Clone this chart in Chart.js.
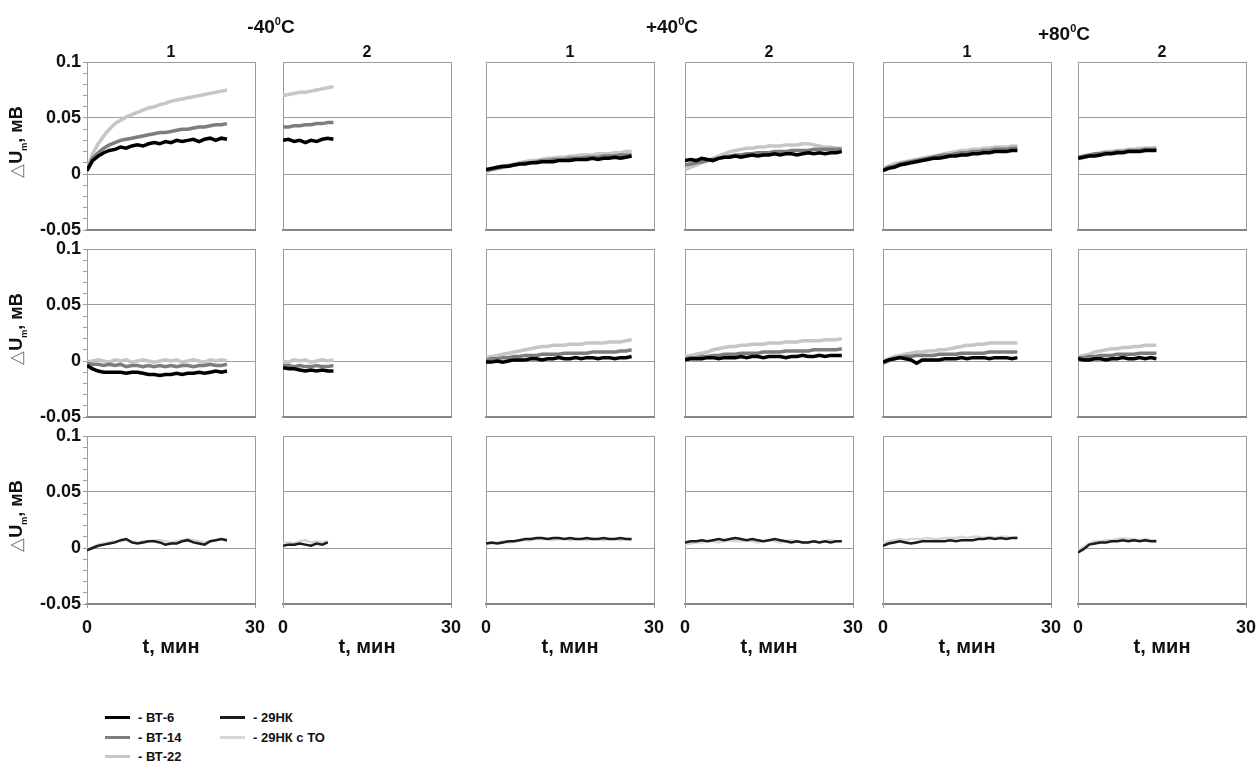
<!DOCTYPE html>
<html>
<head>
<meta charset="utf-8">
<script src="https://cdn.jsdelivr.net/npm/chart.js@4.4.0/dist/chart.umd.min.js"></script>
<style>
  body { margin:0; background:#fff; width:1260px; height:765px; position:relative; overflow:hidden;
         font-family:"Liberation Sans", Arial, sans-serif; font-weight:bold; color:#111; }
  canvas { position:absolute; }
  .lbl { position:absolute; transform:translate(-50%,-50%); white-space:nowrap; }
  .grp { font-size:19px; }
  .grp sup { font-size:11px; position:relative; top:-1px; }
  .num { font-size:16px; }
  .ytitle { position:absolute; font-size:18px; white-space:nowrap; transform:translate(-50%,-50%) rotate(-90deg); }
  .ytitle .tri { color:#777; font-weight:normal; }
  .ytitle sub { font-size:9px; }
  .leg { position:absolute; font-size:13px; white-space:nowrap; }
  .sw { display:inline-block; width:25px; height:3px; vertical-align:middle; margin-right:8px; position:relative; top:-1px; }
</style>
</head>
<body>
<script>
// time axes (minutes) for each column
const tA = [0,1,2,3,4,5,6,7,8,9,10,11,12,13,14,15,16,17,18,19,20,21,22,23,24,25];
const tB = [0,1,2,3,4,5,6,7,8,9];
const tC = [0,1,2,3,4,5,6,7,8,9,10,11,12,13,14,15,16,17,18,19,20,21,22,23,24,25,26];
const tD = [0,1,2,3,4,5,6,7,8,9,10,11,12,13,14,15,16,17,18,19,20,21,22,23,24,25,26,27,28];
const tE = [0,1,2,3,4,5,6,7,8,9,10,11,12,13,14,15,16,17,18,19,20,21,22,23,24];
const tF = [0,1,2,3,4,5,6,7,8,9,10,11,12,13,14];

// row 1
const r1c1_vt6  = [0.003,0.012,0.016,0.019,0.021,0.022,0.024,0.023,0.025,0.026,0.025,0.027,0.028,0.027,0.029,0.028,0.030,0.029,0.030,0.031,0.029,0.031,0.032,0.030,0.032,0.031];
const r1c1_vt14 = [0.004,0.014,0.019,0.023,0.026,0.028,0.030,0.031,0.032,0.033,0.034,0.035,0.036,0.037,0.037,0.038,0.039,0.040,0.040,0.041,0.042,0.042,0.043,0.044,0.044,0.045];
const r1c1_vt22 = [0.004,0.018,0.027,0.034,0.040,0.045,0.048,0.051,0.053,0.055,0.057,0.059,0.060,0.062,0.063,0.065,0.066,0.067,0.068,0.069,0.070,0.071,0.072,0.073,0.074,0.075];

const r1c2_vt6  = [0.030,0.031,0.029,0.030,0.028,0.030,0.029,0.031,0.032,0.031];
const r1c2_vt14 = [0.042,0.042,0.043,0.043,0.044,0.044,0.045,0.045,0.046,0.046];
const r1c2_vt22 = [0.070,0.071,0.072,0.073,0.073,0.074,0.075,0.076,0.077,0.078];

const r1c3_vt6  = [0.004,0.005,0.006,0.007,0.007,0.008,0.009,0.009,0.010,0.010,0.011,0.011,0.011,0.012,0.012,0.012,0.013,0.013,0.013,0.014,0.013,0.014,0.014,0.015,0.014,0.015,0.016];
const r1c3_vt14 = [0.003,0.004,0.005,0.006,0.007,0.008,0.009,0.010,0.010,0.011,0.012,0.012,0.013,0.013,0.013,0.014,0.014,0.014,0.015,0.015,0.015,0.016,0.016,0.016,0.017,0.017,0.017];
const r1c3_vt22 = [0.002,0.004,0.005,0.006,0.008,0.009,0.010,0.011,0.012,0.012,0.013,0.014,0.014,0.015,0.015,0.016,0.016,0.017,0.017,0.017,0.018,0.018,0.018,0.019,0.019,0.020,0.020];

const r1c4_vt6  = [0.012,0.013,0.012,0.014,0.013,0.012,0.014,0.015,0.015,0.016,0.015,0.016,0.017,0.016,0.017,0.017,0.018,0.017,0.018,0.018,0.017,0.018,0.019,0.018,0.019,0.018,0.019,0.019,0.020];
const r1c4_vt14 = [0.008,0.009,0.010,0.011,0.012,0.013,0.014,0.015,0.016,0.017,0.017,0.018,0.018,0.019,0.019,0.019,0.020,0.020,0.020,0.021,0.021,0.021,0.021,0.022,0.022,0.022,0.022,0.022,0.022];
const r1c4_vt22 = [0.004,0.006,0.008,0.010,0.012,0.014,0.016,0.018,0.020,0.021,0.022,0.023,0.023,0.024,0.024,0.025,0.025,0.025,0.026,0.026,0.026,0.027,0.027,0.026,0.025,0.024,0.024,0.023,0.023];

const r1c5_vt6  = [0.003,0.005,0.006,0.008,0.009,0.010,0.011,0.012,0.013,0.014,0.014,0.015,0.016,0.016,0.017,0.017,0.018,0.018,0.019,0.019,0.020,0.020,0.020,0.021,0.021];
const r1c5_vt14 = [0.004,0.006,0.007,0.009,0.010,0.011,0.012,0.013,0.014,0.015,0.016,0.017,0.017,0.018,0.019,0.019,0.020,0.020,0.021,0.021,0.022,0.022,0.022,0.023,0.023];
const r1c5_vt22 = [0.005,0.007,0.009,0.010,0.011,0.012,0.013,0.014,0.015,0.016,0.017,0.018,0.019,0.020,0.021,0.021,0.022,0.022,0.023,0.023,0.024,0.024,0.024,0.025,0.025];

const r1c6_vt6  = [0.014,0.015,0.016,0.016,0.017,0.018,0.018,0.019,0.019,0.020,0.020,0.020,0.021,0.021,0.021];
const r1c6_vt14 = [0.015,0.016,0.017,0.018,0.018,0.019,0.019,0.020,0.020,0.021,0.021,0.021,0.022,0.022,0.022];
const r1c6_vt22 = [0.013,0.015,0.016,0.018,0.019,0.020,0.020,0.021,0.021,0.022,0.022,0.023,0.023,0.023,0.024];

// row 2
const r2c1_vt6  = [-0.004,-0.007,-0.009,-0.010,-0.010,-0.010,-0.010,-0.011,-0.010,-0.010,-0.011,-0.012,-0.012,-0.013,-0.012,-0.012,-0.011,-0.012,-0.011,-0.011,-0.010,-0.011,-0.010,-0.009,-0.010,-0.009];
const r2c1_vt14 = [-0.002,-0.003,-0.003,-0.004,-0.003,-0.004,-0.003,-0.005,-0.004,-0.004,-0.005,-0.004,-0.005,-0.004,-0.005,-0.004,-0.005,-0.004,-0.004,-0.005,-0.004,-0.004,-0.003,-0.004,-0.004,-0.003];
const r2c1_vt22 = [-0.001,0.000,0.001,0.000,-0.001,0.001,0.000,0.001,-0.001,0.000,0.001,0.000,-0.001,0.000,0.001,0.000,0.001,-0.001,0.000,0.001,0.000,-0.001,0.001,0.000,0.001,0.000];

const r2c2_vt6  = [-0.006,-0.007,-0.007,-0.008,-0.009,-0.008,-0.009,-0.008,-0.009,-0.009];
const r2c2_vt14 = [-0.004,-0.004,-0.005,-0.004,-0.005,-0.005,-0.004,-0.005,-0.005,-0.004];
const r2c2_vt22 = [0.000,-0.001,0.001,0.000,0.001,-0.001,0.000,0.001,0.000,0.001];

const r2c3_vt6  = [-0.001,-0.001,0.000,-0.001,0.000,0.001,0.001,0.001,0.002,0.002,0.001,0.002,0.002,0.003,0.002,0.002,0.003,0.002,0.003,0.003,0.002,0.003,0.003,0.002,0.003,0.003,0.004];
const r2c3_vt14 = [0.001,0.002,0.002,0.003,0.003,0.004,0.004,0.005,0.005,0.005,0.006,0.006,0.006,0.006,0.007,0.007,0.007,0.007,0.007,0.008,0.008,0.008,0.008,0.008,0.009,0.009,0.010];
const r2c3_vt22 = [0.003,0.004,0.005,0.006,0.007,0.008,0.009,0.010,0.011,0.012,0.013,0.013,0.014,0.014,0.014,0.015,0.015,0.015,0.016,0.016,0.016,0.016,0.017,0.017,0.017,0.018,0.019];

const r2c4_vt6  = [0.001,0.002,0.002,0.002,0.003,0.003,0.002,0.003,0.003,0.003,0.004,0.003,0.004,0.004,0.003,0.004,0.004,0.004,0.003,0.004,0.004,0.005,0.004,0.004,0.005,0.004,0.005,0.005,0.005];
const r2c4_vt14 = [0.002,0.003,0.003,0.004,0.004,0.005,0.005,0.006,0.006,0.006,0.007,0.007,0.007,0.007,0.008,0.008,0.008,0.008,0.009,0.009,0.009,0.009,0.009,0.010,0.010,0.010,0.010,0.010,0.011];
const r2c4_vt22 = [0.004,0.005,0.006,0.007,0.008,0.010,0.011,0.012,0.013,0.013,0.014,0.014,0.015,0.015,0.015,0.016,0.016,0.016,0.017,0.017,0.017,0.018,0.018,0.018,0.018,0.019,0.019,0.019,0.020];

const r2c5_vt6  = [-0.001,0.001,0.002,0.003,0.002,0.001,-0.002,0.001,0.001,0.001,0.001,0.002,0.002,0.002,0.003,0.002,0.003,0.003,0.003,0.002,0.003,0.003,0.003,0.002,0.003];
const r2c5_vt14 = [-0.002,0.000,0.002,0.003,0.004,0.004,0.005,0.005,0.005,0.005,0.006,0.006,0.006,0.006,0.007,0.007,0.007,0.007,0.007,0.008,0.008,0.008,0.008,0.008,0.008];
const r2c5_vt22 = [0.000,0.002,0.004,0.005,0.006,0.007,0.008,0.008,0.009,0.009,0.010,0.010,0.011,0.012,0.013,0.014,0.014,0.015,0.015,0.016,0.016,0.016,0.016,0.016,0.016];

const r2c6_vt6  = [0.002,0.001,0.001,0.002,0.002,0.001,0.002,0.002,0.003,0.002,0.002,0.003,0.002,0.003,0.002];
const r2c6_vt14 = [0.003,0.003,0.004,0.004,0.005,0.005,0.005,0.006,0.006,0.006,0.006,0.007,0.007,0.007,0.007];
const r2c6_vt22 = [0.004,0.005,0.006,0.008,0.009,0.010,0.011,0.011,0.012,0.012,0.013,0.013,0.014,0.014,0.014];

// row 3
const r3c1_nk   = [-0.002,0.000,0.002,0.003,0.004,0.005,0.007,0.008,0.005,0.004,0.005,0.006,0.006,0.005,0.003,0.004,0.004,0.006,0.007,0.005,0.004,0.003,0.006,0.007,0.008,0.007];
const r3c1_nkto = [-0.001,0.001,0.003,0.004,0.005,0.006,0.006,0.007,0.006,0.005,0.006,0.006,0.007,0.007,0.006,0.005,0.006,0.007,0.008,0.007,0.006,0.005,0.006,0.007,0.008,0.006];

const r3c2_nk   = [0.002,0.003,0.003,0.004,0.003,0.002,0.004,0.003,0.005];
const r3c2_nkto = [0.004,0.005,0.004,0.006,0.007,0.005,0.006,0.005,0.006];

const r3c3_nk   = [0.004,0.005,0.004,0.005,0.006,0.006,0.007,0.008,0.008,0.009,0.009,0.008,0.009,0.009,0.008,0.009,0.008,0.008,0.009,0.008,0.008,0.009,0.008,0.008,0.009,0.008,0.008];
const r3c3_nkto = [0.003,0.004,0.005,0.006,0.005,0.006,0.007,0.007,0.007,0.008,0.008,0.008,0.007,0.008,0.008,0.007,0.008,0.008,0.007,0.008,0.008,0.007,0.008,0.008,0.007,0.008,0.007];

const r3c4_nk   = [0.005,0.006,0.006,0.007,0.006,0.007,0.008,0.007,0.008,0.009,0.008,0.007,0.008,0.007,0.006,0.007,0.008,0.007,0.006,0.005,0.006,0.005,0.005,0.006,0.005,0.006,0.005,0.006,0.006];
const r3c4_nkto = [0.003,0.004,0.005,0.005,0.006,0.006,0.005,0.006,0.007,0.006,0.006,0.007,0.006,0.005,0.006,0.007,0.006,0.005,0.006,0.007,0.006,0.005,0.005,0.006,0.005,0.006,0.007,0.006,0.006];

const r3c5_nk   = [0.002,0.004,0.005,0.006,0.005,0.004,0.005,0.006,0.006,0.006,0.006,0.006,0.007,0.006,0.007,0.007,0.007,0.008,0.008,0.009,0.008,0.009,0.008,0.009,0.009];
const r3c5_nkto = [0.004,0.006,0.007,0.008,0.007,0.008,0.008,0.008,0.009,0.008,0.008,0.009,0.009,0.009,0.010,0.009,0.010,0.010,0.009,0.010,0.009,0.010,0.010,0.009,0.010];

const r3c6_nk   = [-0.004,-0.001,0.003,0.004,0.005,0.005,0.006,0.006,0.007,0.006,0.007,0.006,0.007,0.006,0.006];
const r3c6_nkto = [-0.002,0.001,0.004,0.006,0.006,0.007,0.007,0.008,0.009,0.008,0.008,0.007,0.008,0.007,0.007];

// labels
const groupTitles = ['-40', '+40', '+80'];
const panelNums = ['1', '2'];
const yTicksMajor = [-0.05, 0, 0.05, 0.1];
const xTitle = 't, мин';
const seriesNames = ['- ВТ-6', '- ВТ-14', '- ВТ-22', '- 29НК', '- 29НК с ТО'];
const seriesColors = ['#000000', '#7d7d7d', '#c6c6c6', '#1c1c1c', '#d6d6d6'];

// layout
const colLefts = [87, 283, 486, 685, 883, 1078];
const rowTops = [62, 249, 436];
const plotW = 168, plotH = 168;
const FONT = '"Liberation Sans", Arial, sans-serif';

const rows = [
  [[r1c1_vt6, r1c1_vt14, r1c1_vt22], [r1c2_vt6, r1c2_vt14, r1c2_vt22], [r1c3_vt6, r1c3_vt14, r1c3_vt22],
   [r1c4_vt6, r1c4_vt14, r1c4_vt22], [r1c5_vt6, r1c5_vt14, r1c5_vt22], [r1c6_vt6, r1c6_vt14, r1c6_vt22]],
  [[r2c1_vt6, r2c1_vt14, r2c1_vt22], [r2c2_vt6, r2c2_vt14, r2c2_vt22], [r2c3_vt6, r2c3_vt14, r2c3_vt22],
   [r2c4_vt6, r2c4_vt14, r2c4_vt22], [r2c5_vt6, r2c5_vt14, r2c5_vt22], [r2c6_vt6, r2c6_vt14, r2c6_vt22]],
  [[r3c1_nk, r3c1_nkto], [r3c2_nk, r3c2_nkto], [r3c3_nk, r3c3_nkto],
   [r3c4_nk, r3c4_nkto], [r3c5_nk, r3c5_nkto], [r3c6_nk, r3c6_nkto]]
];
const colTimes = [tA, tB, tC, tD, tE, tF];

function pts(t, v) {
  return v.map((y, i) => ({ x: t[i], y: y }));
}
function isMajor(v) {
  return Math.abs(Math.round(v * 100)) % 5 === 0;
}

function addText(cls, html, x, y) {
  const d = document.createElement('div');
  d.className = cls;
  d.innerHTML = html;
  d.style.left = x + 'px';
  d.style.top = y + 'px';
  document.body.appendChild(d);
  return d;
}

function makePanel(r, c) {
  const cv = document.createElement('canvas');
  cv.width = 80 + plotW + 20;
  cv.height = 10 + plotH + 70;
  cv.style.left = (colLefts[c] - 80) + 'px';
  cv.style.top = (rowTops[r] - 10) + 'px';
  document.body.appendChild(cv);

  const isLeft = c === 0, isBottom = r === 2;
  const colorIdx = r === 2 ? [3, 4] : [0, 1, 2];
  const datasets = rows[r][c].map((vals, i) => ({
    label: seriesNames[colorIdx[i]],
    data: pts(colTimes[c], vals),
    borderColor: seriesColors[colorIdx[i]],
    borderWidth: r === 2 ? 2.5 : 3.5,
    pointRadius: 0,
    tension: 0,
    fill: false
  }));

  new Chart(cv, {
    type: 'line',
    data: { datasets: datasets },
    options: {
      responsive: false,
      animation: false,
      events: [],
      layout: { padding: { top: 10, right: 20, left: 0, bottom: 0 } },
      plugins: { legend: { display: false }, tooltip: { enabled: false } },
      scales: {
        x: {
          type: 'linear', min: 0, max: 30,
          ticks: { display: isBottom, stepSize: 30, padding: 9, maxRotation: 0, color: '#111',
                   font: { family: FONT, size: 18, weight: 'bold' } },
          grid: { color: '#9c9c9c', drawTicks: isBottom, tickLength: 4, tickColor: '#9c9c9c' },
          border: { display: true, color: '#858585', width: 2 },
          title: { display: isBottom, text: xTitle, color: '#111', padding: { top: 0, bottom: 15 },
                   font: { family: FONT, size: 20, weight: 'bold' } },
          afterFit: s => { s.height = 70; s.paddingLeft = 0; s.paddingRight = 0; }
        },
        y: {
          type: 'linear', min: yTicksMajor[0], max: yTicksMajor[yTicksMajor.length - 1],
          ticks: { display: isLeft, stepSize: 0.01, autoSkip: false, padding: 2, color: '#111',
                   font: { family: FONT, size: 18, weight: 'bold' },
                   callback: v => isMajor(v) ? String(Math.round(v * 100) / 100) : '' },
          grid: {
            color: ctx => (ctx.tick && isMajor(ctx.tick.value)) ? '#9c9c9c' : 'rgba(0,0,0,0)',
            drawTicks: isLeft, tickLength: 4, tickColor: '#9c9c9c'
          },
          border: { display: true, color: '#9c9c9c', width: 1 },
          afterFit: s => { s.width = 80; s.paddingTop = 0; s.paddingBottom = 0; }
        }
      }
    }
  });
}

for (let r = 0; r < 3; r++) {
  for (let c = 0; c < 6; c++) makePanel(r, c);
}

// group and panel headers
const groupPos = [[271, 27], [672, 27], [1064, 34]];
groupTitles.forEach((g, i) => addText('lbl grp', g + '<sup>0</sup>C', groupPos[i][0], groupPos[i][1]));
colLefts.forEach((x, i) => addText('lbl num', panelNums[i % 2], x + plotW / 2, 52));

// y titles
rowTops.forEach(y => addText('ytitle', '<span class="tri">△</span>U<sub>m</sub>, мВ', 17, y + plotH / 2 - 4));

// legend
const legPos = [[105, 710], [105, 730], [105, 749], [220, 710], [220, 730]];
seriesNames.forEach((n, i) => {
  addText('leg', '<span class="sw" style="background:' + seriesColors[i] + '"></span>' + n, legPos[i][0], legPos[i][1]);
});
</script>
</body>
</html>
